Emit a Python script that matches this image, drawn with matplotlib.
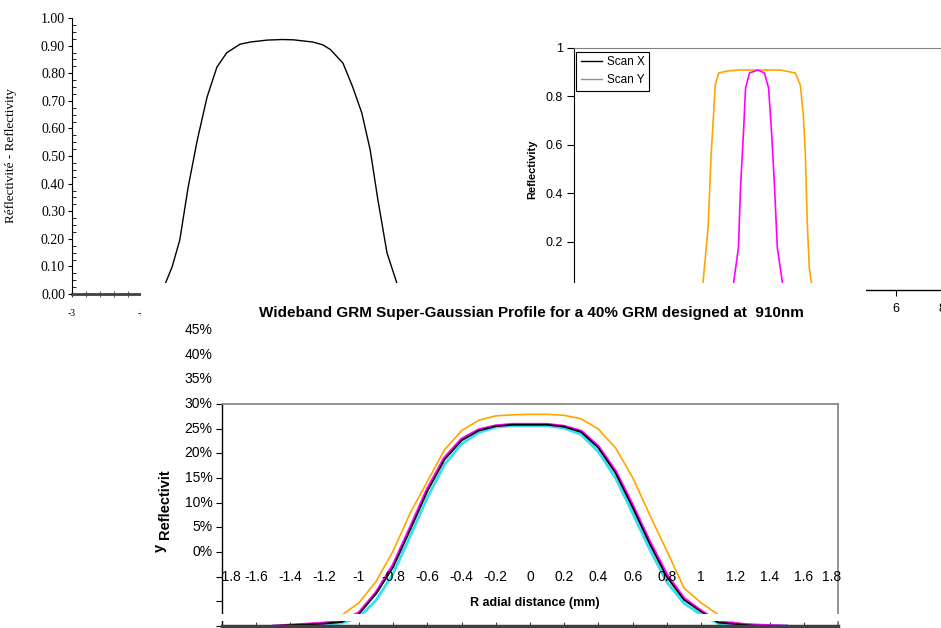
import matplotlib
matplotlib.use("Agg")
import matplotlib.pyplot as plt
from matplotlib.patches import Rectangle
from matplotlib.lines import Line2D
from matplotlib.ticker import MultipleLocator

W, H = 941, 628
SANS = "Liberation Sans"
SERIF = "Liberation Serif"

### top-left panel (french/english reflectivity profile)
tl_x = [-1.67, -1.57, -1.46, -1.34, -1.21, -1.07, -0.93, -0.79, -0.60, -0.45,
        -0.21, 0.0, 0.16, 0.44, 0.58, 0.69, 0.87, 1.01, 1.14, 1.26, 1.37,
        1.50, 1.64]
tl_r = [0.036, 0.098, 0.196, 0.388, 0.558, 0.714, 0.822, 0.874, 0.905, 0.913,
        0.920, 0.922, 0.921, 0.913, 0.903, 0.886, 0.837, 0.750, 0.656, 0.522,
        0.341, 0.149, 0.040]
tl_yticks = [0.0, 0.1, 0.2, 0.3, 0.4, 0.5, 0.6, 0.7, 0.8, 0.9, 1.0]
tl_xticks = [-3, -2, -1, 0, 1, 2, 3]
tl_xlabels = ["-3", "-2", "", "", "", "", ""]   # the rest lie under the lower chart

### top-right panel (scan X / scan Y)
tr_orange_x = [-2.39, -2.17, -2.04, -1.95, -1.86, -1.71, -1.32, -0.89, 0.97,
               1.62, 1.84, 1.97, 2.06, 2.14, 2.23, 2.32]
tr_orange_r = [0.031, 0.258, 0.557, 0.695, 0.847, 0.897, 0.905, 0.909, 0.909,
               0.897, 0.847, 0.723, 0.557, 0.282, 0.093, 0.031]
tr_mag_x = [-1.06, -0.85, -0.76, -0.63, -0.54, -0.37, 0.0, 0.28, 0.46, 0.59,
            0.72, 0.84, 1.06]
tr_mag_r = [0.031, 0.175, 0.423, 0.653, 0.835, 0.897, 0.909, 0.897, 0.835,
            0.653, 0.423, 0.175, 0.031]
tr_yticks = [0.2, 0.4, 0.6, 0.8, 1.0]
tr_ylabels = ["0.2", "0.4", "0.6", "0.8", "1"]
tr_xticks = [-8, -6, -4, -2, 0, 2, 4, 6, 8]
tr_xlabels = ["", "", "", "", "", "", "", "6", "8"]

### bottom panel (wideband GRM super-gaussian)
radial = [-1.5, -1.4, -1.3, -1.2, -1.1, -1.0, -0.9, -0.8, -0.7, -0.6, -0.5,
          -0.4, -0.3, -0.2, -0.1, 0.0, 0.1, 0.2, 0.3, 0.4, 0.5, 0.6, 0.7,
          0.8, 0.9, 1.0, 1.1, 1.2, 1.3, 1.4, 1.5]
r_orange = [0.0, 0.002, 0.004, 0.007, 0.022, 0.047, 0.090, 0.152, 0.229, 0.293,
            0.357, 0.396, 0.417, 0.426, 0.428, 0.429, 0.429, 0.427, 0.420,
            0.399, 0.361, 0.301, 0.225, 0.152, 0.077, 0.047, 0.023, 0.006,
            0.003, 0.001, 0.0]
r_cyan = [0.0, 0.001, 0.002, 0.004, 0.006, 0.017, 0.052, 0.106, 0.182, 0.260,
          0.327, 0.369, 0.392, 0.403, 0.406, 0.406, 0.406, 0.401, 0.388,
          0.353, 0.300, 0.229, 0.155, 0.089, 0.046, 0.023, 0.005, 0.003,
          0.002, 0.001, 0.0]
r_magenta = [0.0, 0.002, 0.004, 0.006, 0.010, 0.027, 0.068, 0.124, 0.200, 0.278,
             0.341, 0.379, 0.398, 0.406, 0.409, 0.409, 0.409, 0.405, 0.395,
             0.364, 0.314, 0.245, 0.171, 0.104, 0.056, 0.031, 0.009, 0.005,
             0.002, 0.001, 0.0]
r_black = [0.0, 0.002, 0.003, 0.005, 0.008, 0.024, 0.065, 0.119, 0.195, 0.273,
           0.337, 0.376, 0.396, 0.405, 0.408, 0.408, 0.408, 0.404, 0.393,
           0.361, 0.310, 0.240, 0.166, 0.099, 0.053, 0.029, 0.007, 0.004,
           0.001, 0.0, 0.0]
b_xticks = [-1.8, -1.6, -1.4, -1.2, -1.0, -0.8, -0.6, -0.4, -0.2, 0.0, 0.2,
            0.4, 0.6, 0.8, 1.0, 1.2, 1.4, 1.6, 1.8]
b_yticks = [0.0, 0.05, 0.10, 0.15, 0.20, 0.25, 0.30, 0.35, 0.40, 0.45]


def box(l, t, r, b):
    # pixel box -> figure fraction [left, bottom, width, height]
    return [l / W, 1 - b / H, (r - l) / W, (b - t) / H]


fig = plt.figure(figsize=(W / 100, H / 100), dpi=100)
fig.patch.set_facecolor("white")

#### top-left
ax1 = fig.add_axes(box(72, 18, 492, 294))
ax1.plot(tl_x, tl_r, color="black", lw=1)
ax1.set_xlim(-3, 3)
ax1.set_ylim(0, 1)
ax1.spines["top"].set_visible(False)
ax1.spines["right"].set_visible(False)
ax1.spines["left"].set_linewidth(0.8)
ax1.spines["bottom"].set_linewidth(2)
ax1.spines["bottom"].set_color("#404040")
ax1.set_yticks(tl_yticks)
ax1.set_yticklabels(["%.2f" % v for v in tl_yticks], fontsize=10, family=SERIF)
ax1.yaxis.set_minor_locator(MultipleLocator(0.025))
ax1.tick_params(axis="y", which="major", direction="out", length=3, pad=2)
ax1.tick_params(axis="y", which="minor", direction="in", length=3)
ax1.set_xticks(tl_xticks)
ax1.set_xticklabels(tl_xlabels, fontsize=7, family=SERIF)
ax1.xaxis.set_minor_locator(MultipleLocator(0.2))
ax1.tick_params(axis="x", which="both", direction="inout", length=4, pad=9,
                color="#404040")
ax1.set_ylabel("Réflectivité - Reflectivity", fontsize=9.5, family=SERIF)
ax1.yaxis.set_label_coords(-0.131, 0.5)

#### top-right
ax2 = fig.add_axes(box(574, 48, 942, 290))
ax2.plot(tr_orange_x, tr_orange_r, color="#FFA500", lw=1.2)
ax2.plot(tr_mag_x, tr_mag_r, color="#FF00FF", lw=1.2)
ax2.set_xlim(-8, 8)
ax2.set_ylim(0, 1)
ax2.spines["right"].set_visible(False)
ax2.spines["top"].set_color("#808080")
ax2.spines["left"].set_linewidth(0.8)
ax2.spines["bottom"].set_linewidth(1)
ax2.set_yticks(tr_yticks)
ax2.set_yticklabels(tr_ylabels, fontsize=9, family=SANS)
ax2.set_xticks(tr_xticks)
ax2.set_xticklabels(tr_xlabels, fontsize=9, family=SANS)
ax2.tick_params(axis="y", length=5, pad=3)
ax2.tick_params(axis="x", length=4, pad=5)
ax2.set_ylabel("Reflectivity", fontsize=8, family=SANS, fontweight="bold")
ax2.yaxis.set_label_coords(-0.100, 0.5)
handles = [Line2D([], [], color="black", lw=1),
           Line2D([], [], color="#909090", lw=1)]
leg = ax2.legend(handles, ["Scan X", "Scan Y"], loc="upper left",
                 bbox_to_anchor=(0.005, 0.985), borderaxespad=0, fancybox=False,
                 framealpha=1, edgecolor="black", handlelength=1.8,
                 handletextpad=0.4, borderpad=0.4, labelspacing=0.5,
                 prop={"family": SANS, "size": 8.5})
leg.get_frame().set_linewidth(0.8)

#### white background of the bottom chart, lying over the two top ones
fig.add_artist(Rectangle((141 / W, 0), (866 - 141) / W, (H - 283) / H,
                         transform=fig.transFigure, facecolor="white",
                         edgecolor="none", zorder=1))

#### bottom
ax3 = fig.add_axes(box(222, 404, 838, 626))
ax3.set_zorder(2)
ax3.plot(radial, r_orange, color="#FFA500", lw=1.2)
ax3.plot(radial, r_cyan, color="#33E0EE", lw=2.0)
ax3.plot(radial, r_magenta, color="#FF00FF", lw=2.0)
ax3.plot(radial, r_black, color="black", lw=1.2)
ax3.set_xlim(-1.8, 1.8)
ax3.set_ylim(0, 0.45)
ax3.spines["top"].set_color("#808080")
ax3.spines["right"].set_color("#808080")
ax3.spines["top"].set_linewidth(1.2)
ax3.spines["right"].set_linewidth(1.2)
ax3.spines["left"].set_linewidth(1)
ax3.spines["bottom"].set_linewidth(2.5)
ax3.spines["bottom"].set_color("#404040")
ax3.set_yticks(b_yticks)
ax3.set_yticklabels([])
ax3.set_xticks(b_xticks)
ax3.set_xticklabels([])
ax3.tick_params(axis="y", direction="out", length=4)
ax3.tick_params(axis="x", direction="in", length=3, color="#404040")

# tick labels sit three steps higher than their ticks, as in the source
for yt in b_yticks:
    ax3.text(-1.855, yt + 0.15, "%d%%" % round(yt * 100), ha="right",
             va="center", fontsize=10, family=SANS, clip_on=False)
for xt in b_xticks:
    dx = 0.04 if xt == -1.8 else (-0.04 if xt == 1.8 else 0.0)
    ax3.text(xt + dx, 0.10, "%g" % xt, ha="center", va="center",
             fontsize=10, family=SANS, clip_on=False)

fig.text(531 / W, 1 - 313 / H,
         "Wideband GRM Super-Gaussian Profile for a 40% GRM designed at  910nm",
         ha="center", va="center", fontsize=11, family=SANS,
         fontweight="bold", zorder=3)
fig.text(535 / W, 1 - 603 / H, "R adial distance (mm)", ha="center",
         va="center", fontsize=9, family=SANS, fontweight="bold", zorder=3)
fig.text(165 / W, 1 - 504 / H, "Reflectivit", ha="center", va="center",
         rotation=90, fontsize=10.5, family=SANS, fontweight="bold", zorder=3)
fig.text(160 / W, 1 - 548 / H, "y", ha="center", va="center",
         rotation=90, fontsize=10.5, family=SANS, fontweight="bold", zorder=3)

# thin white strip cutting through the lower part of the bottom chart
fig.add_artist(Rectangle((200 / W, (H - 621) / H), 660 / W, 7 / H,
                         transform=fig.transFigure, facecolor="white",
                         edgecolor="none", zorder=3))

fig.savefig("out.png", dpi=100)
